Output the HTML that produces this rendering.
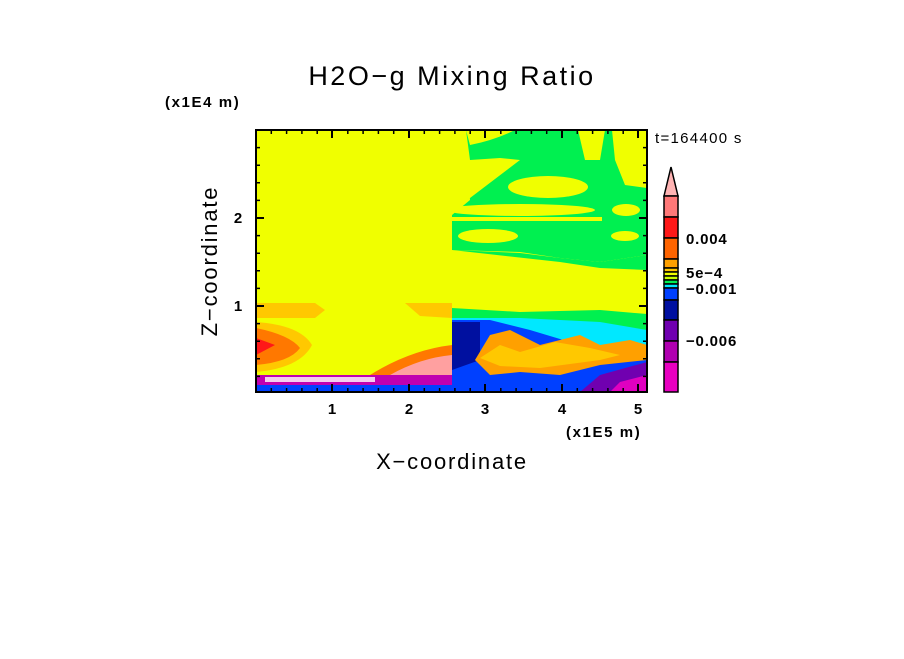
<!DOCTYPE html>
<html><head><style>
body{margin:0;background:#fff;width:904px;height:654px;overflow:hidden}
</style></head><body>
<svg width="904" height="654" xmlns="http://www.w3.org/2000/svg" font-family="Liberation Sans, DejaVu Sans, sans-serif">
<defs><clipPath id="c"><rect x="256" y="130" width="391" height="262"/></clipPath></defs>
<text x="452" y="85" font-size="27" text-anchor="middle" letter-spacing="2.5">H2O−g Mixing Ratio</text>
<text x="165" y="107" font-size="15" letter-spacing="1.6" font-weight="bold">(x1E4 m)</text>
<text x="655" y="143" font-size="15" letter-spacing="1.3">t=164400 s</text>
<g clip-path="url(#c)">
<rect x="256" y="130" width="391" height="262" fill="#f0ff00"/>
<!-- left half -->
<path d="M256,303 L315,303 L325,310 L315,318 L256,318Z" fill="#ffc800"/>
<path d="M405,303 L452,303 L452,318 L420,316Z" fill="#ffc800"/>
<path d="M256,322 Q300,325 312,345 Q300,368 256,372Z" fill="#ffc800"/>
<path d="M256,328 Q290,335 300,348 Q290,362 256,365Z" fill="#ff7800"/>
<path d="M256,338 L275,345 L256,355Z" fill="#ff1818"/>
<path d="M370,375 Q410,350 452,345 L452,375Z" fill="#ff7800"/>
<path d="M390,375 Q420,358 452,355 L452,375Z" fill="#ffa0a0"/>
<rect x="256" y="375" width="196" height="17" fill="#c000b0"/>
<rect x="256" y="385" width="196" height="7" fill="#0040ff"/>
<rect x="265" y="377" width="110" height="5" fill="#ffffff" opacity="0.8"/>
<!-- right half -->
<rect x="452" y="130" width="195" height="262" fill="#f0ff00"/>
<path d="M466,130 L647,130 L647,255 L600,262 L560,258 L520,252 L452,250 L452,215 L470,200 Z" fill="#00f050"/>
<path d="M466,130 L470,160 L500,158 L520,160 L470,198 L452,205 L452,130Z" fill="#f0ff00"/>
<path d="M470,145 Q495,140 515,130 L466,130Z" fill="#f0ff00"/>
<path d="M578,130 L605,130 L600,160 L585,160 Z" fill="#f0ff00"/>
<path d="M612,130 L647,130 L647,188 L625,185 L615,160 Z" fill="#f0ff00"/>
<ellipse cx="548" cy="187" rx="40" ry="11" fill="#f0ff00"/>
<ellipse cx="520" cy="210" rx="75" ry="6" fill="#f0ff00"/>
<ellipse cx="626" cy="210" rx="14" ry="6" fill="#f0ff00"/>
<ellipse cx="488" cy="236" rx="30" ry="7" fill="#f0ff00"/>
<ellipse cx="625" cy="236" rx="14" ry="5" fill="#f0ff00"/>
<rect x="452" y="217" width="150" height="4" fill="#f0ff00"/>
<path d="M452,250 L520,253 L560,258 L600,262 L647,255 L647,270 L600,268 L560,262 Z" fill="#00f050"/>
<path d="M452,308 L520,312 L600,310 L647,314 L647,392 L452,392Z" fill="#00f050"/>
<path d="M452,318 L520,318 L600,322 L647,330 L647,392 L452,392Z" fill="#00e8ff"/>
<path d="M452,320 L490,320 L530,330 L580,345 L647,355 L647,392 L452,392Z" fill="#0040ff"/>
<path d="M452,322 L480,322 L480,360 L452,370Z" fill="#0010a0"/>
<path d="M475,360 L490,335 L510,330 L540,345 L580,335 L600,345 L630,340 L647,345 L647,360 L600,365 L560,375 L520,372 L490,375Z" fill="#ffa000"/>
<path d="M480,358 L500,345 L520,352 L555,342 L590,348 L620,355 L600,360 L540,368 L500,366Z" fill="#ffc800"/>
<path d="M600,375 L647,362 L647,392 L580,392Z" fill="#7000b0"/>
<path d="M620,382 L647,375 L647,392 L610,392Z" fill="#e000c0"/>
</g>
<rect x="256" y="130" width="391" height="262" fill="none" stroke="#000" stroke-width="2"/>
<g stroke="#000" stroke-width="1.5">
<path d="M271.3,392v-4M286.6,392v-4M301.9,392v-4M317.2,392v-4M347.8,392v-4M363.1,392v-4M378.4,392v-4M393.7,392v-4M424.3,392v-4M439.6,392v-4M454.9,392v-4M470.2,392v-4M500.8,392v-4M516.1,392v-4M531.4,392v-4M546.7,392v-4M577.3,392v-4M592.6,392v-4M607.9,392v-4M623.2,392v-4"/>
<path d="M271.3,130v4M286.6,130v4M301.9,130v4M317.2,130v4M347.8,130v4M363.1,130v4M378.4,130v4M393.7,130v4M424.3,130v4M439.6,130v4M454.9,130v4M470.2,130v4M500.8,130v4M516.1,130v4M531.4,130v4M546.7,130v4M577.3,130v4M592.6,130v4M607.9,130v4M623.2,130v4"/>
<path d="M256,376.4h4M256,358.8h4M256,341.2h4M256,323.6h4M256,288.4h4M256,270.8h4M256,253.2h4M256,235.6h4M256,200.4h4M256,182.8h4M256,165.2h4M256,147.6h4"/>
<path d="M647,376.4h-4M647,358.8h-4M647,341.2h-4M647,323.6h-4M647,288.4h-4M647,270.8h-4M647,253.2h-4M647,235.6h-4M647,200.4h-4M647,182.8h-4M647,165.2h-4M647,147.6h-4"/>
</g>
<g stroke="#000" stroke-width="2">
<line x1="332" y1="392" x2="332" y2="384"/><line x1="409" y1="392" x2="409" y2="384"/><line x1="485" y1="392" x2="485" y2="384"/><line x1="562" y1="392" x2="562" y2="384"/><line x1="638" y1="392" x2="638" y2="384"/>
<line x1="332" y1="130" x2="332" y2="138"/><line x1="409" y1="130" x2="409" y2="138"/><line x1="485" y1="130" x2="485" y2="138"/><line x1="562" y1="130" x2="562" y2="138"/><line x1="638" y1="130" x2="638" y2="138"/>
<line x1="256" y1="306" x2="264" y2="306"/><line x1="256" y1="218" x2="264" y2="218"/>
<line x1="647" y1="306" x2="639" y2="306"/><line x1="647" y1="218" x2="639" y2="218"/>
</g>
<g font-size="15" text-anchor="middle" font-weight="bold">
<text x="332" y="414">1</text><text x="409" y="414">2</text><text x="485" y="414">3</text><text x="562" y="414">4</text><text x="638" y="414">5</text>
<text x="238" y="311">1</text><text x="238" y="223">2</text>
</g>
<text x="566" y="437" font-size="15" letter-spacing="1.6" font-weight="bold">(x1E5 m)</text>
<text x="452" y="469" font-size="22" text-anchor="middle" letter-spacing="1.8">X−coordinate</text>
<text x="0" y="0" font-size="22" text-anchor="middle" letter-spacing="1.8" transform="translate(217,261) rotate(-90)">Z−coordinate</text>
<!-- colorbar -->
<g stroke="#000" stroke-width="1.5">
<path d="M664,196 L671,167 L678,196Z" fill="#ffb4b4"/>
<rect x="664" y="196" width="14" height="21" fill="#ff7878"/>
<rect x="664" y="217" width="14" height="21" fill="#ff1818"/>
<rect x="664" y="238" width="14" height="21" fill="#ff6400"/>
<rect x="664" y="259" width="14" height="9" fill="#ffa000"/>
<rect x="664" y="268" width="14" height="4" fill="#ffc800"/>
<rect x="664" y="272" width="14" height="4" fill="#f0ff00"/>
<rect x="664" y="276" width="14" height="4" fill="#c8ff00"/>
<rect x="664" y="280" width="14" height="4" fill="#00f050"/>
<rect x="664" y="284" width="14" height="4" fill="#00e8ff"/>
<rect x="664" y="288" width="14" height="12" fill="#0040ff"/>
<rect x="664" y="300" width="14" height="20" fill="#0010a0"/>
<rect x="664" y="320" width="14" height="21" fill="#7000b0"/>
<rect x="664" y="341" width="14" height="21" fill="#b000b0"/>
<rect x="664" y="362" width="14" height="30" fill="#e800c0"/>
</g>
<g font-size="15" font-weight="bold">
<text x="686" y="244" letter-spacing="0.8">0.004</text>
<text x="686" y="278" letter-spacing="0.8">5e−4</text>
<text x="686" y="294" letter-spacing="0.8">−0.001</text>
<text x="686" y="346" letter-spacing="0.8">−0.006</text>
</g>
</svg>
</body></html>
